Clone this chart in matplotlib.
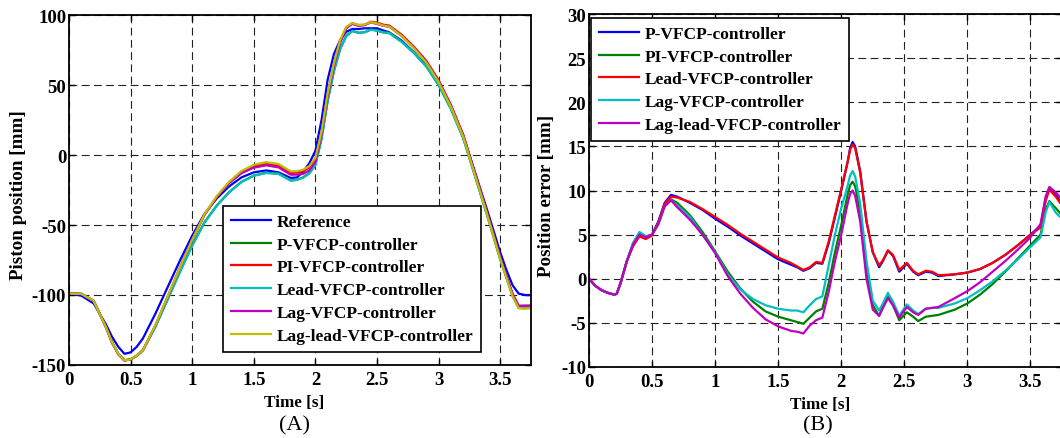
import matplotlib
matplotlib.use("Agg")
import matplotlib.pyplot as plt
from matplotlib.ticker import FuncFormatter

# ---------------- Data: panel A (piston position) ----------------
t_a = [0, 0.1, 0.2, 0.3, 0.35, 0.4, 0.45, 0.5, 0.55, 0.6, 0.7, 0.8, 0.9, 1.0,
       1.1, 1.2, 1.3, 1.4, 1.5, 1.6, 1.7, 1.8, 1.85, 1.9, 1.95, 2.0, 2.05, 2.1,
       2.15, 2.2, 2.25, 2.3, 2.35, 2.4, 2.45, 2.5, 2.55, 2.6, 2.7, 2.8, 2.9,
       3.0, 3.1, 3.2, 3.3, 3.4, 3.5, 3.55, 3.6, 3.65, 3.7, 3.75]
ref_a = [-99, -100.5, -106, -121, -130, -137, -142, -141, -137, -131, -113.6,
         -94.5, -75.5, -57.6, -42, -31, -22.4, -16, -12.4, -11, -12.4, -16.4,
         -16, -12, -6, 3, 25, 54, 72, 82, 88, 90, 90, 90.5, 90.5, 90.5, 89,
         87.6, 81.7, 73.3, 63.8, 50.7, 34, 13.8, -13.6, -41, -69.5, -82, -93,
         -99, -100, -100]
p_a = [-99, -99.2, -104.2, -123, -134, -142, -146.6, -146, -143.5, -139.5,
       -122.8, -103.1, -83.4, -64.5, -48, -36, -26.5, -19.2, -14.7, -12.7,
       -13.3, -18.2, -17.7, -16, -13, -7, 11.8, 39, 59.8, 75.5, 85, 88.6, 87.3,
       87.7, 89.5, 88.9, 87.6, 87.1, 80.9, 72.9, 63.3, 50, 32.9, 12, -16.3,
       -44.8, -74.5, -87.5, -100.5, -109.3, -109.5, -109]
pi_a = [-99, -99.2, -104.2, -123, -134, -142.2, -146.8, -146, -143.3, -139.5,
        -122.2, -101.7, -80.8, -60.7, -42.8, -29.9, -19.8, -12.3, -8.1, -6.3,
        -7.4, -12.8, -12.6, -11.5, -9, -3, 15.5, 43.2, 64.5, 81, 91, 94.2,
        92.8, 93, 95.2, 94.5, 93.1, 92.4, 85.9, 77.3, 67.3, 53.5, 35.8, 14.4,
        -14.4, -43.3, -73.3, -86.4, -99.4, -107.8, -108, -107.8]
lead_a = [-99, -99.2, -104.2, -123, -134.2, -141.8, -146.6, -146, -143.6,
          -139.6, -123.0, -103.4, -83.7, -64.8, -48.3, -36.2, -26.6, -19.3,
          -14.8, -12.9, -13.4, -18.3, -17.8, -16.2, -13.2, -7.2, 11.8, 39.2,
          60, 75.5, 85, 88.6, 87.3, 87.7, 89.5, 88.9, 87.6, 87.1, 80.9, 72.9,
          63.3, 50, 32.9, 12, -16.3, -44.8, -74.5, -87.4, -100.5, -109.1,
          -109.3, -109]
lag_a = [-99, -99.2, -104.2, -123, -134.1, -142.3, -146.8, -146, -143.2,
         -139.3, -121.9, -101.5, -80.5, -60.6, -42.5, -29.8, -20.1, -13, -9,
         -7.4, -8.8, -14.1, -14, -13.5, -11, -5, 14.5, 42, 63.5, 80, 90.5, 93.6,
         92.2, 92.7, 94.7, 93.6, 92.3, 91.6, 85, 76.5, 66.6, 52.9, 35.3, 14.1,
         -14.5, -43.2, -73.1, -86.2, -99, -107.7, -107.5, -107.5]
laglead_a = [-99, -99.2, -104.2, -123, -133.9, -142, -146.7, -146, -143.2,
             -139.3, -121.7, -101.2, -80.5, -60.5, -42.3, -29.3, -19.1, -11.4,
             -7, -5.1, -6.4, -11.7, -11.6, -10.5, -8, -2, 16.5, 44.2, 65.5, 82,
             91.5, 94.2, 92.8, 93.1, 94.9, 93.9, 92.5, 91.7, 85, 76.3, 66, 52.1,
             34.4, 13, -15.6, -44.3, -74.2, -87.5, -100.7, -109.4, -109.8,
             -109.5]
labels_a = ["Reference", "P-VFCP-controller", "PI-VFCP-controller",
            "Lead-VFCP-controller", "Lag-VFCP-controller",
            "Lag-lead-VFCP-controller"]

# ---------------- Data: panel B (position error) ----------------
t_b = [0, 0.05, 0.1, 0.15, 0.2, 0.22, 0.25, 0.3, 0.35, 0.4, 0.45, 0.5, 0.55,
       0.6, 0.65, 0.7, 0.8, 0.9, 1.0, 1.1, 1.2, 1.3, 1.4, 1.5, 1.6, 1.65, 1.7,
       1.75, 1.8, 1.85, 1.9, 1.95, 2.0, 2.05, 2.07, 2.09, 2.11, 2.15, 2.2, 2.25,
       2.3, 2.33, 2.37, 2.41, 2.46, 2.52, 2.57, 2.61, 2.67, 2.72, 2.77, 2.9,
       3.0, 3.1, 3.2, 3.3, 3.4, 3.5, 3.58, 3.62, 3.65, 3.7, 3.75]
p_b = [0, -0.8, -1.3, -1.6, -1.8, -1.7, -0.5, 2.0, 3.9, 5.1, 4.7, 5.0, 6.5, 8.6,
       9.5, 9.3, 8.6, 7.8, 6.8, 5.9, 4.9, 4.0, 3.1, 2.2, 1.6, 1.3, 0.9, 1.2, 1.8,
       1.7, 4.0, 7.0, 10.0, 13.2, 14.8, 15.5, 15.0, 12.2, 6.5, 3.0, 1.3, 2.0,
       3.2, 2.6, 0.8, 1.7, 0.8, 0.4, 0.8, 0.7, 0.3, 0.5, 0.7, 1.1, 1.8, 2.7,
       3.8, 5.0, 6.0, 9.0, 10.3, 9.5, 8.5]
pi_b = [0, -0.8, -1.3, -1.6, -1.8, -1.7, -0.5, 2.0, 4.0, 5.2, 4.8, 5.0, 6.3,
        8.4, 9.0, 8.6, 7.2, 5.3, 3.1, 0.8, -1.1, -2.6, -3.7, -4.3, -4.7, -4.9,
        -5.1, -4.4, -3.7, -3.4, -0.5, 3.0, 6.1, 9.5, 10.6, 11.0, 10.5, 7.5, 1.0,
        -3.0, -4.2, -3.2, -2.0, -3.0, -4.7, -3.8, -4.3, -4.8, -4.3, -4.2, -4.1,
        -3.5, -2.8, -1.8, -0.6, 0.8, 2.3, 3.8, 5.0, 7.8, 8.8, 8.0, 7.2]
lead_b = [0, -0.8, -1.3, -1.6, -1.8, -1.7, -0.5, 2.0, 3.7, 4.8, 4.5, 4.9, 6.4,
          8.5, 9.3, 9.2, 8.7, 7.9, 7.0, 6.1, 5.1, 4.2, 3.3, 2.4, 1.8, 1.4, 1.0,
          1.3, 1.9, 1.8, 4.2, 7.2, 10.2, 13.2, 14.6, 15.2, 14.8, 12.0, 6.5, 3.0,
          1.5, 2.1, 3.2, 2.7, 1.0, 1.8, 0.9, 0.5, 0.9, 0.8, 0.4, 0.5, 0.7, 1.1,
          1.8, 2.7, 3.8, 5.0, 5.8, 8.8, 10.1, 9.3, 8.3]
lag_b = [0, -0.8, -1.3, -1.6, -1.8, -1.7, -0.5, 2.0, 4.1, 5.3, 4.8, 5.0, 6.2,
         8.2, 8.9, 8.3, 7.0, 5.0, 3.0, 0.5, -1.2, -2.3, -3.0, -3.4, -3.6, -3.6,
         -3.8, -3.0, -2.3, -2.0, 1.5, 5.0, 8.0, 10.5, 11.7, 12.2, 11.6, 8.5,
         2.0, -2.5, -3.6, -2.8, -1.6, -2.6, -4.2, -2.9, -3.6, -4.0, -3.4, -3.3,
         -3.3, -2.8, -2.2, -1.3, -0.3, 0.9, 2.2, 3.6, 4.7, 7.5, 8.7, 7.5, 6.8]
laglead_b = [0, -0.8, -1.3, -1.6, -1.8, -1.7, -0.5, 2.0, 3.9, 5.0, 4.7, 5.0,
             6.2, 8.2, 8.9, 8.1, 6.7, 5.0, 2.9, 0.3, -1.7, -3.3, -4.6, -5.4,
             -5.9, -6.0, -6.2, -5.3, -4.7, -4.4, -1.5, 2.0, 5.0, 8.5, 9.6, 10.0,
             9.4, 6.5, 0.0, -3.5, -4.2, -3.3, -2.2, -3.0, -4.4, -3.2, -3.8, -4.1,
             -3.4, -3.3, -3.2, -2.2, -1.4, -0.4, 0.8, 2.0, 3.3, 4.7, 6.2, 9.3,
             10.4, 9.8, 9.0]
labels_b = ["P-VFCP-controller", "PI-VFCP-controller", "Lead-VFCP-controller",
            "Lag-VFCP-controller", "Lag-lead-VFCP-controller"]

x_ticks = [0, 0.5, 1, 1.5, 2, 2.5, 3, 3.5]
yticks_a = [-150, -100, -50, 0, 50, 100]
yticks_b = [-10, -5, 0, 5, 10, 15, 20, 25, 30]

# MATLAB classic colour order
C_BLUE, C_GREEN, C_RED = "#0000FF", "#008000", "#FF0000"
C_CYAN, C_MAG, C_YEL = "#00BFBF", "#BF00BF", "#BFBF00"

FONT = "Liberation Serif"
FS_TICK = 13.5
FS_LEG = 12.5
FS_YLAB = 13.7
FS_XLAB = 12.3

fig = plt.figure(figsize=(10.6, 4.39), dpi=100)
W, H = 1060.0, 439.0


def make_axes(l, t, r, b):
    return fig.add_axes([l / W, 1 - b / H, (r - l) / W, (b - t) / H])


def style(ax, yticks, ylim):
    ax.set_xlim(0, 3.75)
    ax.set_ylim(*ylim)
    ax.set_xticks(x_ticks)
    ax.set_yticks(yticks)
    ax.xaxis.set_major_formatter(FuncFormatter(lambda v, p: "%g" % v))
    ax.yaxis.set_major_formatter(FuncFormatter(lambda v, p: "%g" % v))
    ax.grid(True, color="#222222", linestyle=(0, (7, 4)), linewidth=0.8)
    ax.set_axisbelow(True)
    ax.tick_params(direction="in", length=4, width=1, top=True, right=True,
                   labelsize=FS_TICK)
    ax.tick_params(axis="x", pad=4)
    ax.tick_params(axis="y", pad=2)
    for lab in ax.get_xticklabels() + ax.get_yticklabels():
        lab.set_fontfamily(FONT)
        lab.set_fontweight("bold")
    for sp in ax.spines.values():
        sp.set_linewidth(1.3)


def add_legend(ax, x, y):
    leg = ax.legend(loc="upper left", bbox_to_anchor=(x / W, 1 - y / H),
                    bbox_transform=fig.transFigure, borderaxespad=0,
                    prop={"family": FONT, "weight": "bold", "size": FS_LEG},
                    handlelength=2.3, handletextpad=0.35, labelspacing=0.38,
                    borderpad=0.45, fancybox=False, framealpha=1,
                    edgecolor="black")
    leg.get_frame().set_linewidth(1.2)
    return leg


LW = 1.6

# ---------------- Panel A ----------------
axA = make_axes(69, 16, 531, 366)
axA.plot(t_a, ref_a, color=C_BLUE, lw=LW, label=labels_a[0])
axA.plot(t_a, p_a, color=C_GREEN, lw=LW, label=labels_a[1])
axA.plot(t_a, pi_a, color=C_RED, lw=LW, label=labels_a[2])
axA.plot(t_a, lead_a, color=C_CYAN, lw=LW, label=labels_a[3])
axA.plot(t_a, lag_a, color=C_MAG, lw=LW, label=labels_a[4])
axA.plot(t_a, laglead_a, color=C_YEL, lw=LW, label=labels_a[5])
style(axA, yticks_a, (-150, 100))
add_legend(axA, 223, 207)

# ---------------- Panel B ----------------
axB = make_axes(589, 15, 1062, 368)
axB.plot(t_b, p_b, color=C_BLUE, lw=LW, label=labels_b[0])
axB.plot(t_b, pi_b, color=C_GREEN, lw=LW, label=labels_b[1])
axB.plot(t_b, lead_b, color=C_RED, lw=LW, label=labels_b[2])
axB.plot(t_b, lag_b, color=C_CYAN, lw=LW, label=labels_b[3])
axB.plot(t_b, laglead_b, color=C_MAG, lw=LW, label=labels_b[4])
style(axB, yticks_b, (-10, 30))
add_legend(axB, 591, 19)

# ---------------- Labels ----------------
fig.text(19 / W, 1 - 195 / H, "Piston position [mm]", rotation=90,
         ha="center", va="center", family=FONT, weight="bold", size=FS_YLAB)
fig.text(547 / W, 1 - 196 / H, "Position error [mm]", rotation=90,
         ha="center", va="center", family=FONT, weight="bold", size=FS_YLAB)
fig.text(294 / W, 1 - 403 / H, "Time [s]", ha="center", va="center",
         family=FONT, weight="bold", size=FS_XLAB)
fig.text(820 / W, 1 - 405 / H, "Time [s]", ha="center", va="center",
         family=FONT, weight="bold", size=FS_XLAB)
fig.text(294 / W, 1 - 426 / H, "(A)", ha="center", va="center",
         family=FONT, size=16)
fig.text(818 / W, 1 - 426 / H, "(B)", ha="center", va="center",
         family=FONT, size=16)

fig.savefig("out.png", dpi=100)
